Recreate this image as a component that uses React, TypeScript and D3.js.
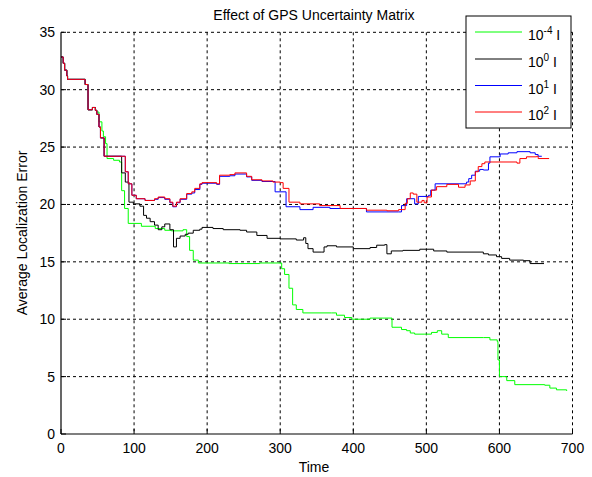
import React from "react";
import * as d3 from "d3";

type Pt = [number, number];

// Time / average localization error samples for each GPS uncertainty setting
const seriesGreen: Pt[] = [
  [0, 32.85], [3, 32.3], [5, 31.7], [8, 31.2], [9, 30.9], [33, 30.45], [37, 28.25], [43, 28.45], [47, 28.2],
  [49, 28.05], [52, 27.2], [56, 26.4], [58, 25.9], [61, 25.3], [63, 24.0], [72, 23.85], [80, 23.7],
  [83, 21.2], [87, 19.65], [92, 18.35], [110, 18.1], [129, 17.9], [142, 17.75], [151, 17.7], [167, 17.8],
  [172, 17.2], [176, 16.0], [181, 15.15], [188, 14.9], [230, 14.85], [272, 14.9], [296, 14.9],
  [302, 14.4], [306, 13.9], [312, 12.7], [317, 11.25], [322, 10.85], [331, 10.55], [370, 10.55],
  [377, 10.35], [388, 10.15], [398, 10.0], [423, 10.1], [453, 9.3], [466, 9.1], [473, 9.0], [478, 8.8],
  [484, 8.7], [498, 8.7], [507, 8.85], [515, 9.0], [521, 8.7], [530, 8.4], [578, 8.4], [587, 8.2],
  [597, 8.05], [598, 6.45], [600, 5.0], [610, 4.65], [621, 4.3], [662, 4.25], [669, 4.0], [678, 3.85],
  [692, 3.75],
];

const seriesBlack: Pt[] = [
  [0, 32.85], [3, 32.3], [5, 31.7], [8, 31.2], [9, 30.9], [33, 30.45], [37, 28.25], [43, 28.45], [47, 28.2],
  [49, 27.85], [52, 26.75], [54, 25.8], [59, 24.2], [83, 22.75], [88, 21.95], [93, 20.2], [99, 20.05],
  [108, 19.85], [113, 19.05], [117, 18.8], [122, 18.5], [128, 18.2], [133, 17.8], [138, 18.05],
  [142, 18.3], [149, 17.8], [154, 16.3], [158, 17.05], [163, 17.25], [170, 17.4], [174, 17.5],
  [181, 17.75], [190, 17.85], [193, 18.0], [208, 17.9], [222, 17.8], [245, 17.75], [254, 17.6],
  [268, 17.3], [282, 17.05], [300, 17.0], [322, 16.9], [332, 17.1], [335, 16.6], [338, 16.15],
  [345, 15.85], [357, 15.85], [360, 16.3], [364, 16.4], [377, 16.3], [400, 16.15], [423, 16.25],
  [432, 16.45], [443, 16.5], [446, 15.7], [452, 15.95], [468, 16.0], [491, 16.1], [510, 15.95],
  [528, 15.85], [578, 15.7], [585, 15.6], [596, 15.45], [603, 15.3], [614, 15.15], [633, 15.1],
  [642, 14.85], [661, 14.85],
];

const seriesBlue: Pt[] = [
  [0, 32.85], [3, 32.3], [5, 31.7], [8, 31.2], [9, 30.9], [33, 30.45], [37, 28.25], [43, 28.45], [47, 28.2],
  [49, 27.85], [52, 26.75], [54, 25.8], [59, 24.2], [88, 22.85], [92, 21.8], [97, 20.8], [103, 20.5],
  [115, 20.35], [128, 20.45], [133, 20.6], [142, 20.45], [149, 20.15], [153, 19.8], [158, 20.15],
  [163, 20.45], [172, 20.9], [179, 21.0], [183, 21.3], [190, 21.75], [193, 21.85], [213, 21.75],
  [217, 22.45], [231, 22.5], [238, 22.65], [254, 22.4], [261, 22.1], [275, 22.0], [293, 21.1],
  [308, 19.8], [327, 19.55], [345, 19.75], [368, 19.65], [418, 19.35], [462, 19.35], [466, 19.9],
  [473, 20.5], [484, 20.05], [489, 20.7], [503, 20.8], [506, 21.25], [512, 21.8], [555, 21.95],
  [558, 22.25], [562, 22.55], [567, 22.9], [573, 23.05], [578, 23.0], [585, 23.6], [587, 24.15],
  [601, 24.4], [612, 24.5], [624, 24.6], [642, 24.5], [649, 24.35], [653, 24.2], [658, 24.2],
];

const seriesRed: Pt[] = [
  [0, 32.85], [3, 32.3], [5, 31.7], [8, 31.2], [9, 30.9], [33, 30.45], [37, 28.25], [43, 28.45], [47, 28.2],
  [49, 27.85], [52, 26.75], [54, 25.8], [59, 24.2], [88, 22.85], [92, 21.8], [97, 20.8], [103, 20.5],
  [115, 20.35], [128, 20.5], [133, 20.65], [142, 20.5], [149, 20.2], [153, 19.85], [158, 20.2],
  [163, 20.5], [172, 20.95], [179, 21.1], [183, 21.4], [190, 21.8], [193, 21.9], [213, 21.8],
  [217, 22.55], [231, 22.6], [238, 22.75], [254, 22.45], [261, 22.15], [275, 22.05], [290, 21.95],
  [300, 21.9], [304, 21.4], [312, 20.2], [327, 20.05], [354, 19.9], [382, 19.65], [418, 19.5],
  [446, 19.45], [462, 19.55], [471, 20.1], [474, 20.5], [478, 21.0], [482, 20.9], [487, 20.2],
  [494, 20.35], [497, 20.15], [501, 20.65], [507, 21.25], [514, 21.55], [528, 21.75], [544, 21.5],
  [553, 21.7], [560, 22.05], [567, 22.85], [571, 23.3], [576, 23.55], [580, 23.7], [624, 23.6],
  [628, 24.0], [637, 24.15], [651, 24.2], [653, 24.0], [668, 24.0],
];

const xTicks = [0, 100, 200, 300, 400, 500, 600, 700];
const yTicks = [0, 5, 10, 15, 20, 25, 30, 35];

const legendBases = ["10", "10", "10", "10"];
const legendExps = ["-4", "0", "1", "2"];
const legendSuffix = " I";

const titleText = "Effect of GPS Uncertainty Matrix";
const xLabel = "Time";
const yLabel = "Average Localization Error";

const W = 592;
const H = 477;
const M = { left: 61, right: 572.5, top: 32.3, bottom: 434 };
const FONT = "'Liberation Sans', Arial, Helvetica, sans-serif";

export default function App() {
  const x = d3.scaleLinear().domain([0, 700]).range([M.left, M.right]);
  const y = d3.scaleLinear().domain([0, 35]).range([M.bottom, M.top]);

  const line = d3
    .line<Pt>()
    .x((d) => x(d[0]))
    .y((d) => y(d[1]))
    .curve(d3.curveStepAfter);

  const series = [
    { data: seriesGreen, color: "#00ff00" },
    { data: seriesBlack, color: "#000000" },
    { data: seriesBlue, color: "#0000ff" },
    { data: seriesRed, color: "#ff0000" },
  ];

  const legend = { x0: 466, y0: 16, w: 105, h: 112 };
  const rowY = [32, 59, 85.5, 112];

  return (
    <svg
      width={W}
      height={H}
      style={{ position: "absolute", left: 0, top: 0, background: "#fff" }}
      fontFamily={FONT}
    >
      <rect x={0} y={0} width={W} height={H} fill="#fff" />

      {/* grid */}
      {xTicks.filter((t) => t > 0).map((t) => (
        <line
          key={"gx" + t}
          x1={x(t)}
          x2={x(t)}
          y1={M.top}
          y2={M.bottom}
          stroke="#000"
          strokeWidth={1}
          strokeDasharray="3,3"
        />
      ))}
      {yTicks.filter((t) => t > 0).map((t) => (
        <line
          key={"gy" + t}
          x1={M.left}
          x2={M.right}
          y1={y(t)}
          y2={y(t)}
          stroke="#000"
          strokeWidth={1}
          strokeDasharray="3,3"
        />
      ))}

      {/* series */}
      {series.map((s, i) => (
        <path key={i} d={line(s.data) || ""} fill="none" stroke={s.color} strokeWidth={1} />
      ))}

      {/* axes */}
      <line x1={M.left} x2={M.left} y1={M.top} y2={M.bottom} stroke="#000" strokeWidth={1.2} />
      <line x1={M.left} x2={M.right} y1={M.bottom} y2={M.bottom} stroke="#000" strokeWidth={1.2} />
      {xTicks.map((t) => (
        <line key={"tx" + t} x1={x(t)} x2={x(t)} y1={M.bottom} y2={M.bottom - 5} stroke="#000" />
      ))}
      {yTicks.map((t) => (
        <line key={"ty" + t} x1={M.left} x2={M.left + 5} y1={y(t)} y2={y(t)} stroke="#000" />
      ))}

      {/* tick labels */}
      {xTicks.map((t) => (
        <text key={"lx" + t} x={x(t)} y={453} fontSize={14} textAnchor="middle" fill="#000">
          {t}
        </text>
      ))}
      {yTicks.map((t) => (
        <text
          key={"ly" + t}
          x={55}
          y={y(t) + 5}
          fontSize={14}
          textAnchor="end"
          fill="#000"
        >
          {t}
        </text>
      ))}

      {/* titles */}
      <text x={314} y={20} fontSize={14} textAnchor="middle" fill="#000">
        {titleText}
      </text>
      <text x={314} y={472} fontSize={14} textAnchor="middle" fill="#000">
        {xLabel}
      </text>
      <text
        transform={`translate(27, 233) rotate(-90)`}
        fontSize={14}
        textAnchor="middle"
        fill="#000"
      >
        {yLabel}
      </text>

      {/* legend */}
      <rect
        x={legend.x0}
        y={legend.y0}
        width={legend.w}
        height={legend.h}
        fill="#fff"
        stroke="#000"
        strokeWidth={1}
      />
      {series.map((s, i) => (
        <g key={"lg" + i}>
          <line x1={475} x2={522} y1={rowY[i]} y2={rowY[i]} stroke={s.color} strokeWidth={1} />
          <text x={528} y={rowY[i] + 8} fontSize={14} fill="#000">
            {legendBases[i]}
            <tspan dy={-6} fontSize={10}>
              {legendExps[i]}
            </tspan>
            <tspan dy={6}>{legendSuffix}</tspan>
          </text>
        </g>
      ))}
    </svg>
  );
}
